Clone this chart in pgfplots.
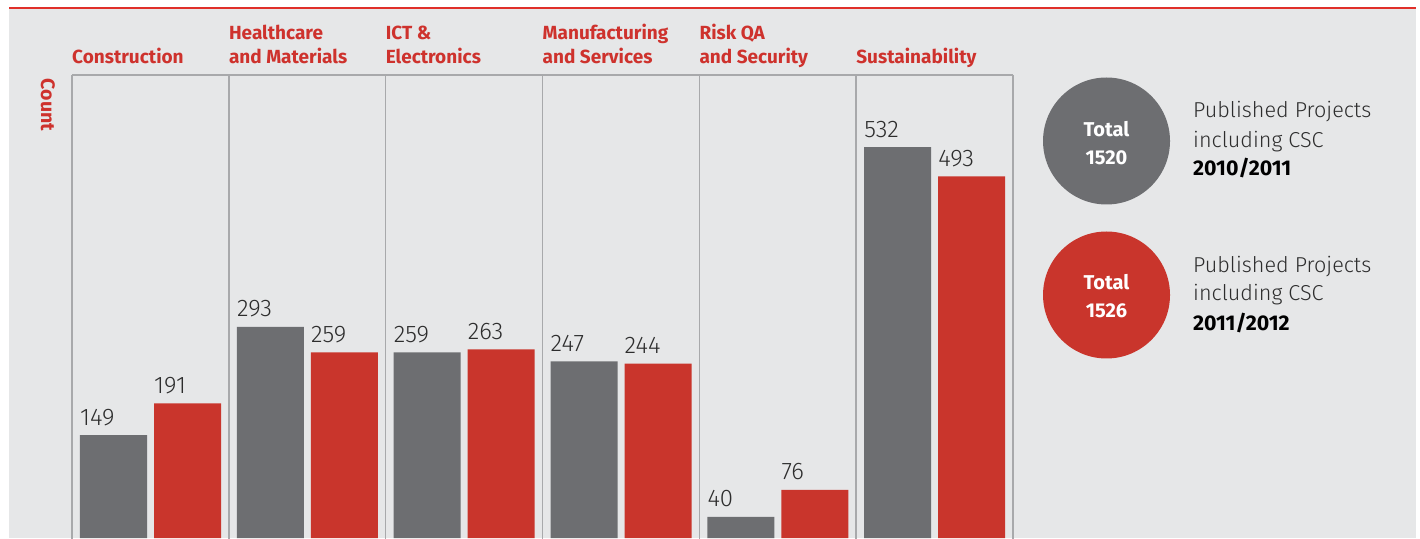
\documentclass[border=0pt]{standalone}
\usepackage{pgfplots}
\pgfplotsset{compat=1.18}
\usepackage{fontspec}
\setmainfont{Fira Sans}
\newfontfamily\lightfont{Fira Sans Light}
\definecolor{bg}{RGB}{230,231,232}
\definecolor{barGray}{RGB}{109,110,113}
\definecolor{barRed}{RGB}{201,53,44}
\definecolor{txtRed}{RGB}{206,50,45}
\definecolor{lineRed}{RGB}{224,48,42}
\definecolor{gridc}{RGB}{168,169,171}
\definecolor{txtDark}{RGB}{45,45,45}
\begin{document}
\begin{tikzpicture}[x=1pt,y=1pt]
\useasboundingbox (0,0) rectangle (1420,538);
\fill[bg] (9,0) rectangle (1416,529);
\draw[lineRed, line width=2pt] (9,530) -- (1416,530);
\begin{axis}[at={(72pt,0pt)}, anchor=south west, scale only axis,
  width=941pt, height=463pt, xmin=0, xmax=6, ymin=12, ymax=628,
  axis line style={draw=none}, ticks=none, clip=false,
  ybar, bar width=67pt, bar shift=0pt,
  /pgf/number format/assume math mode=true,
  nodes near coords,
  every node near coord/.append style={font=\lightfont\fontsize{24}{24}\selectfont,
    color=txtDark, anchor=base west, xshift=-33.5pt, yshift=10pt, inner sep=0pt}]
\addplot[fill=barGray, draw=none] coordinates {
  (0.2646,149) (1.2646,293) (2.2646,259) (3.2646,247) (4.2646,40) (5.2646,532)};
\addplot[fill=barRed, draw=none] coordinates {
  (0.7365,191) (1.7365,259) (2.7365,263) (3.7365,244) (4.7365,76) (5.7365,493)};
\draw[gridc, line width=1.6pt] (axis cs:0,628) -- (axis cs:6,628);
\pgfplotsinvokeforeach{0,...,6}{\draw[gridc, line width=1.6pt] (axis cs:#1,628) -- (axis cs:#1,0);}
\node[anchor=base west, inner sep=0pt, text=txtRed, font=\bfseries\fontsize{19}{19}\selectfont, yshift=11pt] at (axis cs:0,628) {Construction};
\node[anchor=base west, inner sep=0pt, text=txtRed, font=\bfseries\fontsize{19}{19}\selectfont, yshift=35pt] at (axis cs:1,628) {Healthcare};
\node[anchor=base west, inner sep=0pt, text=txtRed, font=\bfseries\fontsize{19}{19}\selectfont, yshift=11pt] at (axis cs:1,628) {and Materials};
\node[anchor=base west, inner sep=0pt, text=txtRed, font=\bfseries\fontsize{19}{19}\selectfont, yshift=35pt] at (axis cs:2,628) {ICT \&};
\node[anchor=base west, inner sep=0pt, text=txtRed, font=\bfseries\fontsize{19}{19}\selectfont, yshift=11pt] at (axis cs:2,628) {Electronics};
\node[anchor=base west, inner sep=0pt, text=txtRed, font=\bfseries\fontsize{19}{19}\selectfont, yshift=35pt] at (axis cs:3,628) {Manufacturing};
\node[anchor=base west, inner sep=0pt, text=txtRed, font=\bfseries\fontsize{19}{19}\selectfont, yshift=11pt] at (axis cs:3,628) {and Services};
\node[anchor=base west, inner sep=0pt, text=txtRed, font=\bfseries\fontsize{19}{19}\selectfont, yshift=35pt] at (axis cs:4,628) {Risk QA};
\node[anchor=base west, inner sep=0pt, text=txtRed, font=\bfseries\fontsize{19}{19}\selectfont, yshift=11pt] at (axis cs:4,628) {and Security};
\node[anchor=base west, inner sep=0pt, text=txtRed, font=\bfseries\fontsize{19}{19}\selectfont, yshift=11pt] at (axis cs:5,628) {Sustainability};
\end{axis}
\node[rotate=-90, text=txtRed, font=\bfseries\fontsize{19.5}{19.5}\selectfont] at (48,433) {Count};
\fill[barGray] (1106.5,397) circle (63.5);
\fill[barRed] (1106.5,243) circle (63.5);
\tikzset{tot/.style={anchor=base, inner sep=0pt, text=white, font=\bfseries\fontsize{20}{20}\selectfont}}
\node[tot] at (1106.5,401) {Total};
\node[tot] at (1106.5,373) {1520};
\node[tot] at (1106.5,248) {Total};
\node[tot] at (1106.5,220) {1526};
\tikzset{leg/.style={anchor=base west, inner sep=0pt, text=txtDark, font=\lightfont\fontsize{21.6}{21.6}\selectfont},
  legb/.style={anchor=base west, inner sep=0pt, text=black, font=\bfseries\fontsize{21.3}{21.3}\selectfont}}
\node[leg] at (1193,420) {Published Projects};
\node[leg] at (1193,390) {including CSC};
\node[legb] at (1193,362) {2010/2011};
\node[leg] at (1193,265) {Published Projects};
\node[leg] at (1193,237) {including CSC};
\node[legb] at (1193,207) {2011/2012};
\end{tikzpicture}
\end{document}
